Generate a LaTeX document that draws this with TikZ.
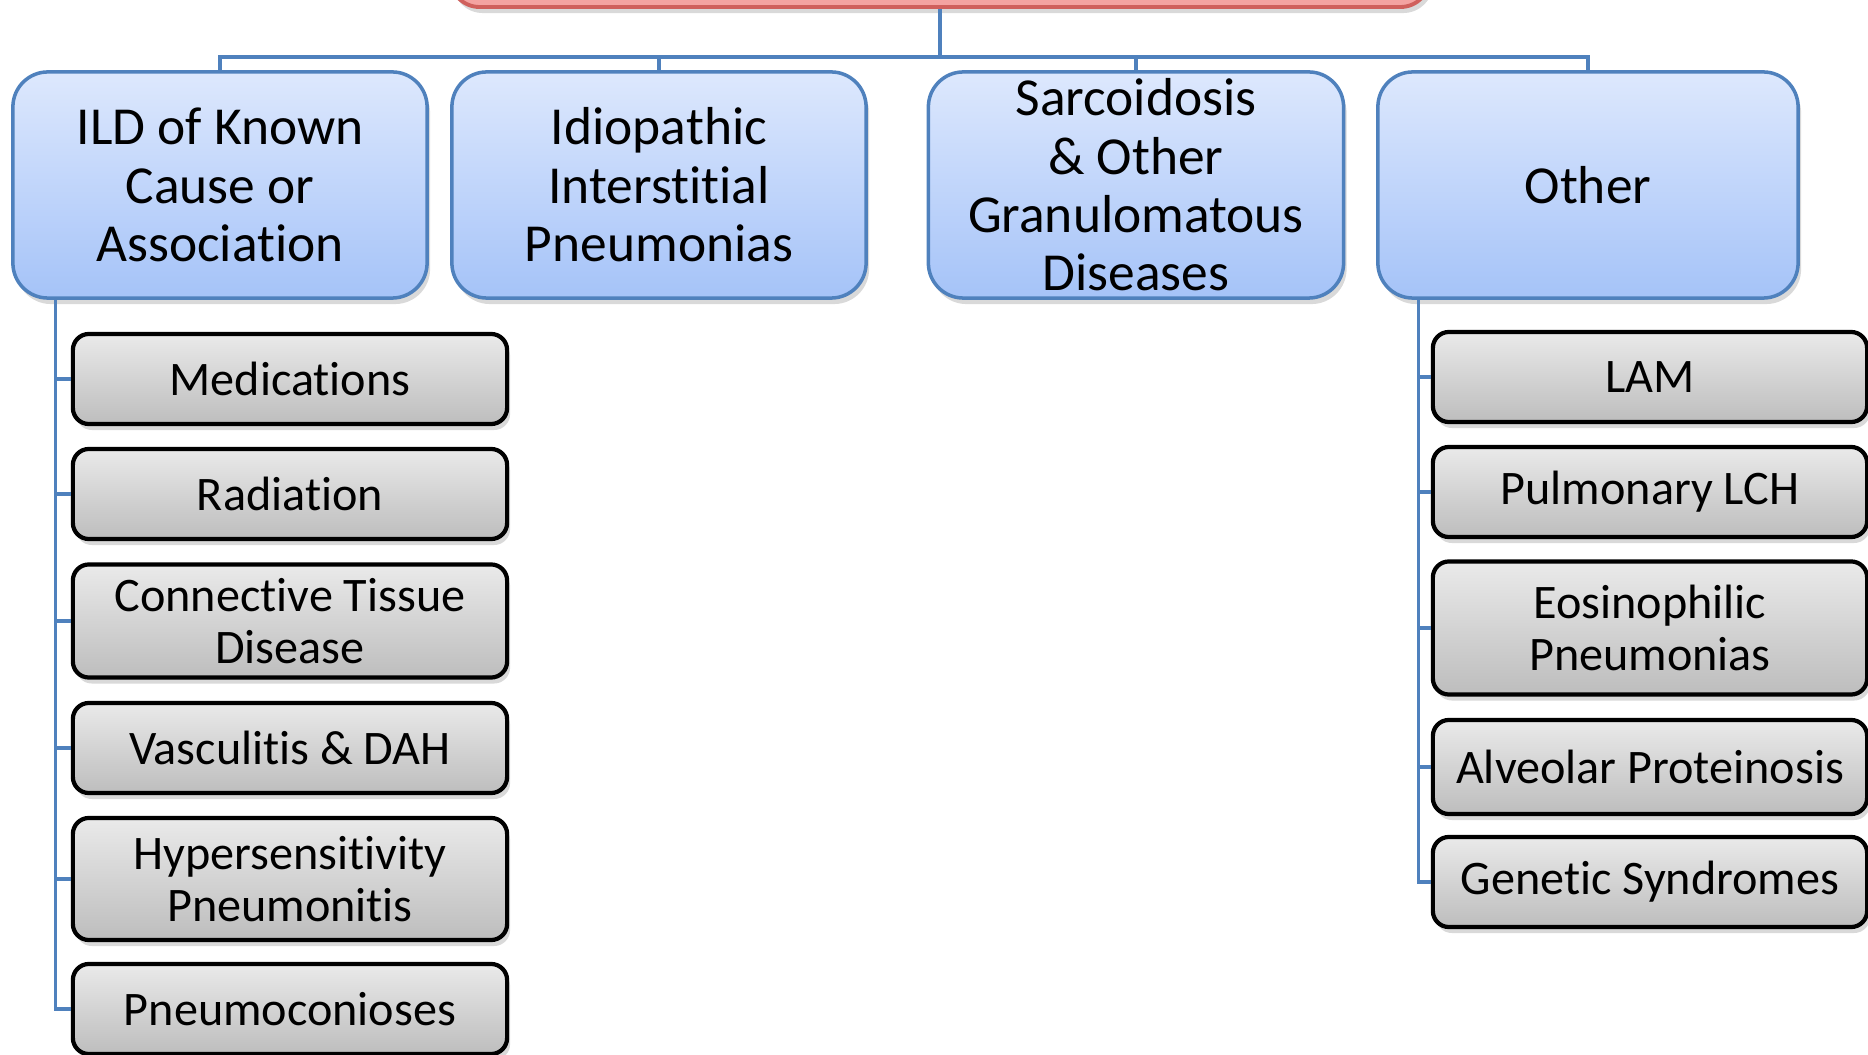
\documentclass[tikz,border=0pt]{standalone}
\usepackage{fontspec}
\setmainfont{Carlito}[Ligatures=NoCommon]
\usepackage{tikz}
\usetikzlibrary{shadows,positioning,calc}
\definecolor{orgblue}{HTML}{4F81BD}
\definecolor{bluetop}{HTML}{DDE8FD}
\definecolor{bluebot}{HTML}{A5C3F8}
\definecolor{graytop}{HTML}{EAEAEA}
\definecolor{graybot}{HTML}{BDBDBD}
\definecolor{redline}{HTML}{D0605C}
\definecolor{redfill}{HTML}{F4A3A1}

\begin{document}
\begin{tikzpicture}
[x=0.01cm,y=-0.01cm,
line/.style={orgblue,line width=0.9pt},
topbox/.style={draw=redline,line width=1.1pt,rounded corners=0.3cm,
fill=redfill,minimum width=9.8cm,minimum height=1cm,
drop shadow={shadow xshift=0.3mm,shadow yshift=-0.6mm,opacity=0.3}},
catbox/.style={draw=orgblue,line width=1pt,rounded corners=0.35cm,
top color=bluetop,bottom color=bluebot,minimum width=4.14cm,
minimum height=2.26cm,align=center,font=\fontsize{15.2}{16.6}\selectfont,
drop shadow={shadow xshift=0.3mm,shadow yshift=-0.6mm,opacity=0.3}},
subbox/.style={draw=black,line width=1.2pt,rounded corners=0.16cm,
top color=graytop,bottom color=graybot,minimum width=4.34cm,
minimum height=0.9cm,align=center,font=\fontsize{13.7}{14.9}\selectfont,
drop shadow={shadow xshift=0.3mm,shadow yshift=-0.6mm,opacity=0.3}}]
\useasboundingbox (0,0) rectangle (1868,1055);

\node (top) at (940,-43) [topbox] {};
\node (cat1) at (220,185) [catbox] {ILD of Known\\Cause or\\Association};
\node (cat2) at (659,185) [catbox] {Idiopathic\\Interstitial\\Pneumonias};
\node (cat3) at (1136,185) [catbox,minimum width=4.15cm,inner ysep=-3pt] {Sarcoidosis\\\& Other\\Granulomatous\\Diseases};
\node (cat4) at (1588,185) [catbox,minimum width=4.2cm] {Other};

\node (k1) at (290,379) [subbox] {Medications};
\node (k2) at (290,494) [subbox] {Radiation};
\node (k3) at (290,621) [subbox,minimum height=1.13cm] {Connective Tissue\\Disease};
\node (k4) at (290,748) [subbox] {Vasculitis \& DAH};
\node (k5) at (290,879) [subbox,minimum height=1.22cm] {Hypersensitivity\\Pneumonitis};
\node (k6) at (290,1009) [subbox] {Pneumoconioses};

\node (o1) at (1650,377) [subbox] {LAM};
\node (o2) at (1650,492) [subbox] {Pulmonary LCH};
\node (o3) at (1650,628) [subbox,minimum height=1.33cm] {Eosinophilic\\Pneumonias};
\node (o4) at (1650,767) [subbox,minimum height=0.94cm] {Alveolar Proteinosis};
\node (o5) at (1650,882) [subbox] {Genetic Syndromes};

\coordinate (bus) at (940,57);
\coordinate[left=1.64cm of cat1.south] (spineL);
\coordinate[left=1.69cm of cat4.south] (spineR);

\draw[line] (top.south) -- (bus);
\foreach \c in {cat1,cat2,cat3,cat4}
\draw[line] (bus) -| (\c.north);
\foreach \k in {k1,k2,k3,k4,k5,k6}
\draw[line] (spineL) |- (\k.west);
\foreach \o in {o1,o2,o3,o4,o5}
\draw[line] (spineR) |- (\o.west);

\end{tikzpicture}
\end{document}
